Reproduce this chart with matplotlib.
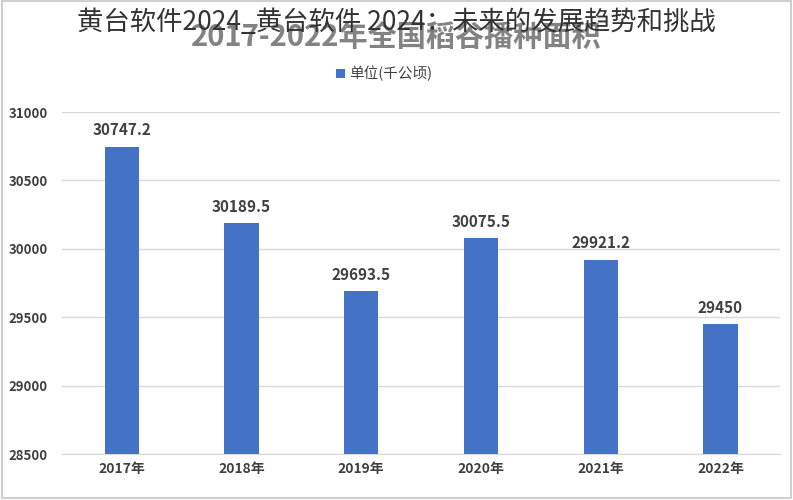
import matplotlib.pyplot as plt
from matplotlib.patches import Rectangle

plt.rcParams['font.family'] = ['Noto Sans CJK SC', 'DejaVu Sans']

years = ["2017年", "2018年", "2019年", "2020年", "2021年", "2022年"]
areas = [30747.2, 30189.5, 29693.5, 30075.5, 29921.2, 29450]
value_labels = ["30747.2", "30189.5", "29693.5", "30075.5", "29921.2", "29450"]
y_ticks = [28500, 29000, 29500, 30000, 30500, 31000]

bar_color = "#4472c4"
text_color = "#404040"

fig = plt.figure(figsize=(7.93, 5), dpi=100)
ax = fig.add_axes([0.078, 0.092, 0.906, 0.684])

x = list(range(len(years)))
ax.bar(x, [a - y_ticks[0] for a in areas], bottom=y_ticks[0], width=0.285,
       color=bar_color, zorder=3)

# value labels above bars
for xi, a, lab in zip(x, areas, value_labels):
    ax.text(xi, a + 60, lab, ha="center", va="bottom", fontsize=11,
            fontweight="bold", color=text_color)

ax.set_xlim(-0.5, len(years) - 0.5)
ax.set_ylim(y_ticks[0], y_ticks[-1])
ax.set_yticks(y_ticks)
ax.set_yticklabels([str(t) for t in y_ticks], fontsize=9.5, fontweight="bold",
                   color=text_color)
ax.set_xticks(x)
ax.set_xticklabels(years, fontsize=10, fontweight="bold", color=text_color)
ax.tick_params(axis="x", length=0, pad=6)
ax.tick_params(axis="y", length=0, pad=10)
ax.grid(axis="y", color="#d9d9d9", linewidth=1, zorder=0)
for side in ["top", "right", "left"]:
    ax.spines[side].set_visible(False)
ax.spines["bottom"].set_color("#d9d9d9")

# faded original chart title underneath
fig.text(0.5, 0.925, "2017-2022年全国稻谷播种面积", ha="center", va="center",
         fontsize=21, fontweight="bold", color="#595959", alpha=0.75)
# overlay title
fig.text(0.5, 0.955, "黄台软件2024_黄台软件 2024：未来的发展趋势和挑战",
         ha="center", va="center", fontsize=19, color="#333333")

# legend
fig.patches.append(Rectangle((0.424, 0.845), 0.011, 0.018, transform=fig.transFigure,
                             facecolor=bar_color, edgecolor="none"))
fig.text(0.440, 0.854, "单位(千公顷)", ha="left", va="center", fontsize=10.5,
         color=text_color)

# light frame around the picture
fig.patches.append(Rectangle((0.002, 0.004), 0.996, 0.994, transform=fig.transFigure,
                             facecolor="none", edgecolor="#d0d0d0", linewidth=1.5))

fig.savefig("out.png", dpi=100)
